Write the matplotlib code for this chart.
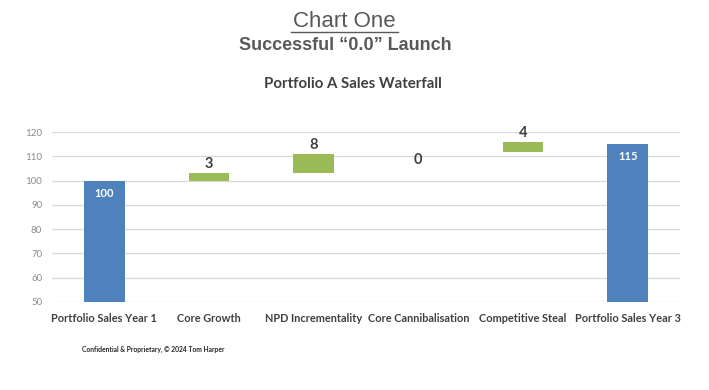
import matplotlib
matplotlib.use("Agg")
import matplotlib.pyplot as plt

categories = ["Portfolio Sales Year 1", "Core Growth", "NPD Incrementality",
              "Core Cannibalisation", "Competitive Steal", "Portfolio Sales Year 3"]
values = [100, 3, 8, 0, 4, 115]
bases = [50, 100, 103, 105, 112, 50]
is_total = [True, False, False, False, False, True]
yticks = [50, 60, 70, 80, 90, 100, 110, 120]

BLUE = "#4F81BD"
GREEN = "#9BBB59"
GRID = "#D9D9D9"
TXT = "#404040"

fig = plt.figure(figsize=(7.09, 3.90), dpi=100)
ax = fig.add_axes([0.0733, 0.2264, 0.8857, 0.4344])

x = list(range(len(categories)))
heights = [v - 50 if t else v for v, t in zip(values, is_total)]
colors = [BLUE if t else GREEN for t in is_total]
bars = ax.bar(x, heights, bottom=bases, width=0.39, color=colors, zorder=3)

for xi, v, b, h, t in zip(x, values, bases, heights, is_total):
    top = b + h
    if t:
        ax.annotate(str(v), (xi, top), xytext=(0, -5), textcoords="offset points",
                    ha="center", va="top", color="white", fontsize=8,
                    fontweight="bold", family="Lato", zorder=4)
    else:
        ax.annotate(str(v), (xi, top), xytext=(0, 1.5), textcoords="offset points",
                    ha="center", va="bottom", color=TXT, fontsize=10.5,
                    fontweight="bold", family="Lato", zorder=4)

ax.set_xlim(-0.5, len(categories) - 0.5)
ax.set_ylim(50, 120)
ax.set_yticks(yticks)
ax.set_yticklabels([str(t) for t in yticks], fontsize=7, color="#8C8C8C", family="Lato")
ax.set_xticks(x)
ax.set_xticklabels(categories, fontsize=7.9, color=TXT, fontweight="bold", family="Lato")
ax.tick_params(axis="y", length=0, pad=7)
ax.tick_params(axis="x", length=0, pad=8)
ax.grid(axis="y", color=GRID, linewidth=0.9, zorder=0)
for s in ax.spines.values():
    s.set_visible(False)

fig.text(0.485, 0.945, "Chart One", ha="center", va="center", fontsize=16,
         color="#595959", family="Liberation Sans")
fig.add_artist(plt.Line2D([0.411, 0.561], [0.918, 0.918], color="#595959", linewidth=1.0))
fig.text(0.487, 0.884, "Successful \u201c0.0\u201d Launch", ha="center", va="center",
         fontsize=13, fontweight="bold", color="#595959", family="Liberation Sans")
fig.text(0.498, 0.784, "Portfolio A Sales Waterfall", ha="center", va="center",
         fontsize=10.8, fontweight="bold", color=TXT, family="Lato")
fig.text(0.116, 0.105, "Confidential & Proprietary, \u00a9 2024 Tom Harper", ha="left",
         va="center", fontsize=4.9, fontweight="bold", color="#262626", family="Lato")

fig.savefig("out.png", dpi=100, facecolor="white")
